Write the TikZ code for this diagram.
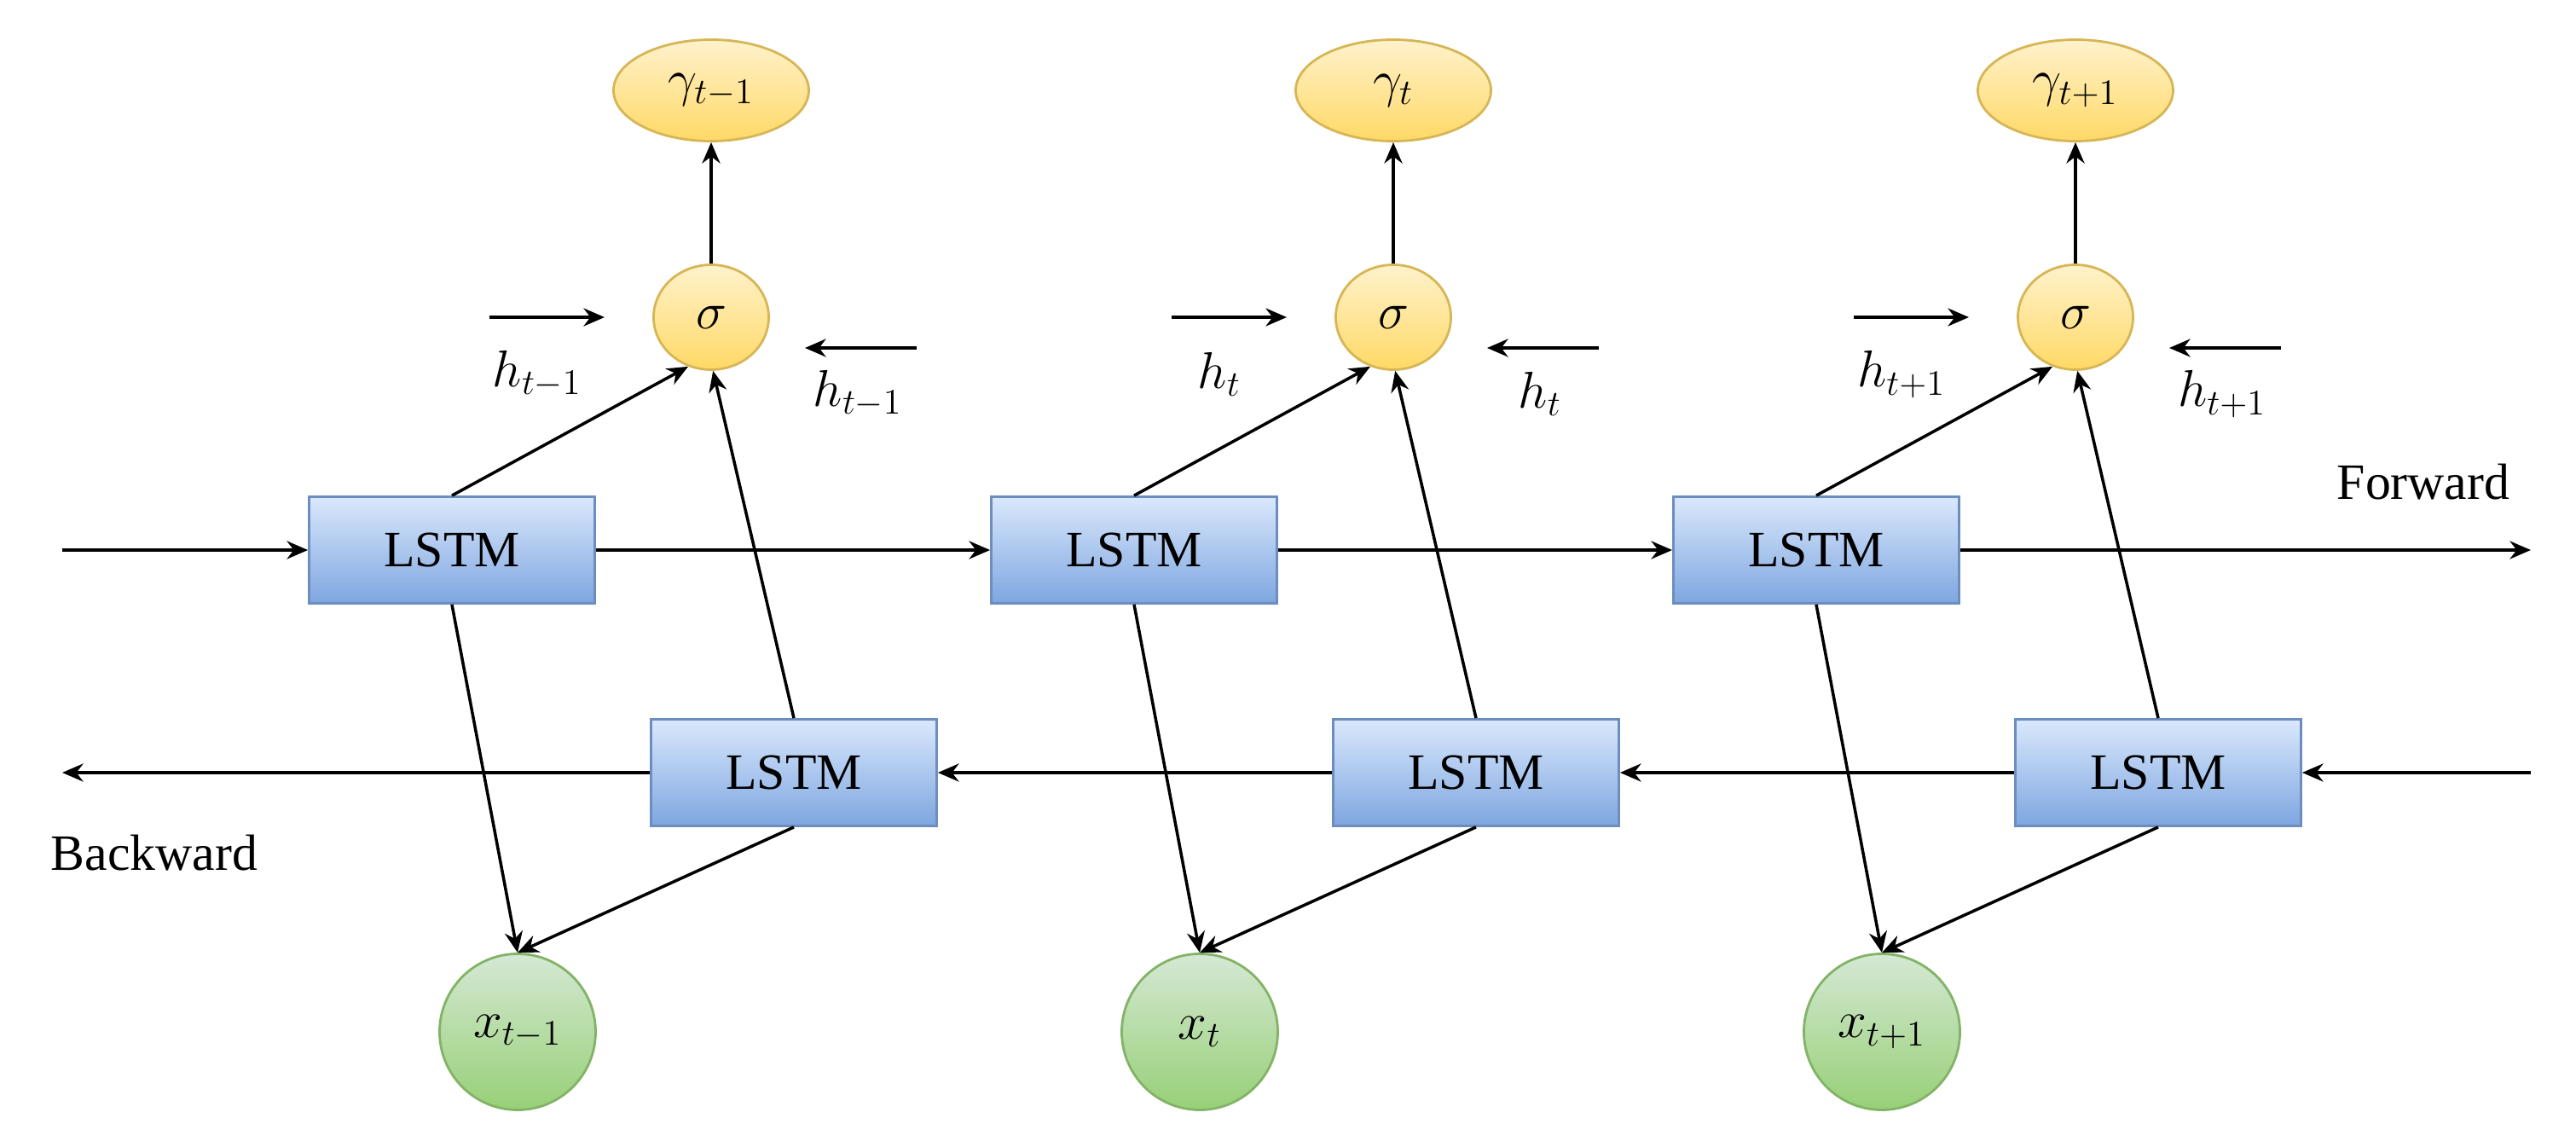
\documentclass[tikz,border=0pt]{standalone}
\usepackage{fontspec}
\setmainfont{Liberation Serif}
\usetikzlibrary{arrows.meta,shapes.geometric,positioning}

\definecolor{lstmtop}{HTML}{DAE8FC}
\definecolor{lstmbot}{HTML}{7EA6E0}
\definecolor{lstmline}{HTML}{6C8EBF}
\definecolor{sigtop}{HTML}{FFF2CC}
\definecolor{sigbot}{HTML}{FFD966}
\definecolor{sigline}{HTML}{D6B656}
\definecolor{intop}{HTML}{D5E8D4}
\definecolor{inbot}{HTML}{97D077}
\definecolor{inline}{HTML}{82B366}

\tikzset{
	lstm/.style={rectangle, draw=lstmline, line width=0.8pt, top color=lstmtop, bottom color=lstmbot,
		minimum width=3.35cm, minimum height=1.25cm, font=\fontsize{17}{20}\selectfont},
	gate/.style={ellipse, draw=sigline, line width=0.8pt, top color=sigtop, bottom color=sigbot,
		inner sep=0pt, font=\fontsize{17}{20}\selectfont},
	inp/.style={circle, draw=inline, line width=0.8pt, top color=intop, bottom color=inbot,
		minimum size=1.83cm, inner sep=0pt, font=\fontsize{17}{20}\selectfont},
	link/.style={-{Stealth[length=7pt,width=6pt]}, line width=1pt},
	lab/.style={font=\fontsize{17}{20}\selectfont}
}

\begin{document}
\begin{tikzpicture}
	\useasboundingbox (0,0) rectangle (30.21,13.44);
	% columns
	\foreach \i/\s/\c in {1/{t-1}/5.30, 2/t/13.30, 3/{t+1}/21.30}{
		\node[lstm] (fwd\i) at (\c, 6.99) {LSTM};
		\node[lstm] (bwd\i) at ({\c+4.01}, 4.38) {LSTM};
		\node[gate, minimum width=1.35cm, minimum height=1.23cm] (sig\i) at ({\c+3.04}, 9.72) {$\sigma$};
		\node[gate, minimum width=2.29cm, minimum height=1.19cm] (out\i) at ({\c+3.04}, 12.38) {$\gamma_{\s}$};
		\node[inp] (in\i) at ({\c+0.77}, 1.34) {$x_{\s}$};
		% hidden state labels
		\node[lab] (hf\i) at ({\c+1.00}, 9.05) {$h_{\s}$};
		\node[lab] (hb\i) at ({\c+4.76}, 8.82) {$h_{\s}$};
		\coordinate (hfa\i) at ({\c+0.44}, 9.72);
		\coordinate (hfb\i) at ({\c+1.79}, 9.72);
		\coordinate (hba\i) at ({\c+5.45}, 9.36);
		\coordinate (hbb\i) at ({\c+4.14}, 9.36);
		\draw[link] (hfa\i) -- (hfb\i);
		\draw[link] (hba\i) -- (hbb\i);
		% connectors
		\draw[link] (sig\i) -- (out\i);
		\draw[link] (fwd\i.north) -- (sig\i.-115);
		\draw[link] (bwd\i.north) -- (sig\i.-88);
		\draw[link] (fwd\i.south) -- (in\i.north);
		\draw[link] (bwd\i.south) -- (in\i.north);
	}
	% recurrent chains
	\coordinate (fstart) at (0.73, 6.99);
	\coordinate (fend) at (29.68, 6.99);
	\coordinate (bstart) at (29.68, 4.38);
	\coordinate (bend) at (0.73, 4.38);
	\draw[link] (fstart) -- (fwd1);
	\draw[link] (fwd1) -- (fwd2);
	\draw[link] (fwd2) -- (fwd3);
	\draw[link] (fwd3) -- (fend);
	\draw[link] (bstart) -- (bwd3);
	\draw[link] (bwd3) -- (bwd2);
	\draw[link] (bwd2) -- (bwd1);
	\draw[link] (bwd1) -- (bend);
	\node[lab] (flabel) at (28.42, 7.79) {Forward};
	\node[lab] (blabel) at (1.81, 3.44) {Backward};
\end{tikzpicture}
\end{document}
